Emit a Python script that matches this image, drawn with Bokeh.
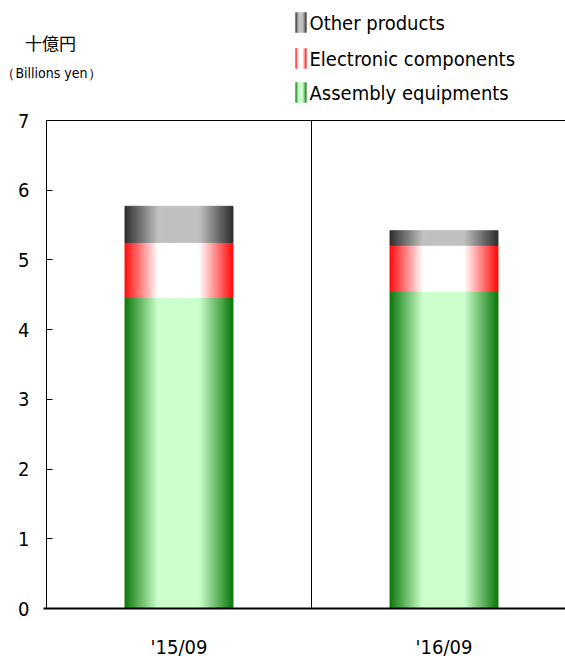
import numpy as np
from bokeh.plotting import figure
from bokeh.models import Range1d, FixedTicker, BoxAnnotation, Label, ColumnDataSource, LinearAxis
from bokeh.embed import file_html
from bokeh.resources import INLINE

# ---- data ----
categories = ["'15/09", "'16/09"]
assembly = [4.46, 4.55]
electronic = [0.79, 0.66]
other = [0.52, 0.21]
series_names = ["Assembly equipments", "Electronic components", "Other products"]
y_ticks = [0, 1, 2, 3, 4, 5, 6, 7]
unit_label = "十億円"
unit_label_en = "（Billions yen）"

# ---- styles ----
edge_colors = [(10, 120, 10), (255, 10, 10), (45, 45, 45)]
center_colors = [(205, 255, 205), (255, 255, 255), (192, 192, 192)]
FONT = "DejaVu Sans Condensed"

W, H = 565, 670
LEFT = 46          # x of the y axis in pixels
FRAME_BOTTOM = 608 # y of the x axis in pixels
PX_X = 265.0
PX_Y = 69.71
x_start = -LEFT / PX_X
x_end = (W - LEFT) / PX_X
y_start = -(H - FRAME_BOTTOM) / PX_Y
y_end = FRAME_BOTTOM / PX_Y


def gx(px):
    return (px - LEFT) / PX_X


def gy(py):
    return (FRAME_BOTTOM - py) / PX_Y


def shade(edge, center, t):
    f = min(1.0, max(0.0, (1 - abs(t)) / 0.62))
    c = [int(round(e + (m - e) * f)) for e, m in zip(edge, center)]
    return "#%02x%02x%02x" % tuple(c)


p = figure(width=W, height=H, output_backend="svg", toolbar_location=None,
           x_range=Range1d(x_start, x_end), y_range=Range1d(y_start, y_end),
           x_axis_location=None, y_axis_location=None,
           min_border_left=0, min_border_right=0, min_border_top=0,
           min_border_bottom=0)
p.outline_line_color = None
p.xgrid.visible = False
p.ygrid.visible = False
p.background_fill_color = "white"
p.border_fill_color = "white"

BAR_W = 0.408
N = 54
strip_w = BAR_W / N
centers = [i + 0.5 for i in range(len(categories))]

stack = [assembly, electronic, other]
base = [0.0] * len(categories)
for s, vals in enumerate(stack):
    xs, bots, tops, cols = [], [], [], []
    for ci, c in enumerate(centers):
        for k in range(N):
            t = -1 + (2 * k + 1) / N
            xs.append(c - BAR_W / 2 + (k + 0.5) * strip_w)
            bots.append(base[ci])
            tops.append(base[ci] + vals[ci])
            cols.append(shade(edge_colors[s], center_colors[s], t))
    src = ColumnDataSource(dict(x=xs, bottom=bots, top=tops, color=cols))
    p.vbar(x="x", width=strip_w, bottom="bottom", top="top", fill_color="color",
           line_color="color", line_width=0.8, source=src)
    base = [b + v for b, v in zip(base, vals)]

# frame lines
p.add_layout(BoxAnnotation(left=0, right=x_end + 1, bottom=0, top=7, fill_alpha=0,
                           line_color="black", line_alpha=1, line_width=1))
p.add_layout(BoxAnnotation(left=1, right=x_end + 1, bottom=0, top=7, fill_alpha=0,
                           line_color="black", line_alpha=1, line_width=1))

# y axis pinned at x = 0
yaxis = LinearAxis(fixed_location=0, ticker=FixedTicker(ticks=y_ticks))
yaxis.axis_line_color = None
yaxis.major_tick_in = 6
yaxis.major_tick_out = 0
yaxis.minor_tick_line_color = None
yaxis.major_tick_line_color = "black"
yaxis.major_label_text_font = FONT
yaxis.major_label_text_font_size = "20px"
yaxis.major_label_text_color = "black"
yaxis.major_label_standoff = 17
p.add_layout(yaxis, "left")

# x axis pinned at y = 0
xaxis = LinearAxis(fixed_location=0, ticker=FixedTicker(ticks=centers),
                   bounds=(-0.01, x_end + 1))
xaxis.major_label_overrides = {c: lab for c, lab in zip(centers, categories)}
xaxis.axis_line_color = "black"
xaxis.axis_line_width = 2
xaxis.major_tick_in = 0
xaxis.major_tick_out = 0
xaxis.minor_tick_line_color = None
xaxis.major_label_text_font = FONT
xaxis.major_label_text_font_size = "20px"
xaxis.major_label_text_color = "black"
xaxis.major_label_standoff = 26
p.add_layout(xaxis, "below")

# legend (manual, gradient icons)
legend_rows = [(2, 22), (1, 58), (0, 92)]
ICON_W = 11 / PX_X
ICON_H = 20 / PX_Y
NI = 7
for s, py in legend_rows:
    xs, cols = [], []
    for k in range(NI):
        t = -1 + (2 * k + 1) / NI
        xs.append(gx(295) + (k + 0.5) * ICON_W / NI)
        cols.append(shade(edge_colors[s], center_colors[s], t))
    src = ColumnDataSource(dict(x=xs, color=cols))
    p.vbar(x="x", width=ICON_W / NI, bottom=gy(py) - ICON_H / 2, top=gy(py) + ICON_H / 2,
           fill_color="color", line_color="color", line_width=0.4, source=src)
    p.add_layout(Label(x=gx(309), y=gy(py), text=series_names[s], text_baseline="middle",
                       text_font=FONT, text_font_size="20px", text_color="black"))

p.add_layout(Label(x=gx(50), y=gy(42), text=unit_label, text_align="center",
                   text_baseline="middle", text_font="Noto Sans CJK JP",
                   text_font_size="17px", text_color="black"))
p.add_layout(Label(x=gx(51), y=gy(72), text=unit_label_en, text_align="center",
                   text_baseline="middle", text_font=FONT,
                   text_font_size="14px", text_color="black"))

open("out.html", "w").write(file_html(p, INLINE))
